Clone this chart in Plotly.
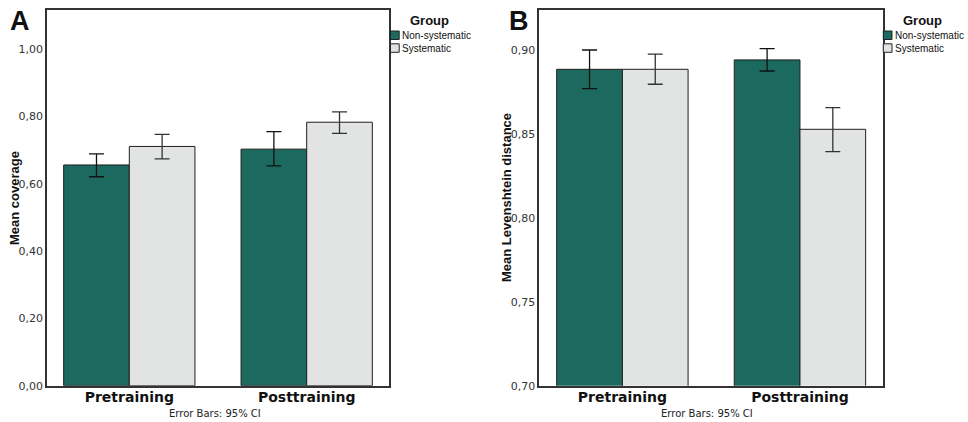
import plotly.graph_objects as go

# ---- data ----
phases = ["Pretraining", "Posttraining"]
groups = ["Non-systematic", "Systematic"]

cov_nonsys = [0.656, 0.703]
cov_nonsys_hi = [0.689, 0.755]
cov_nonsys_lo = [0.621, 0.653]
cov_sys = [0.711, 0.783]
cov_sys_hi = [0.747, 0.814]
cov_sys_lo = [0.674, 0.750]

lev_nonsys = [0.8883, 0.8939]
lev_nonsys_hi = [0.8998, 0.9006]
lev_nonsys_lo = [0.8768, 0.8873]
lev_sys = [0.8883, 0.8526]
lev_sys_hi = [0.8973, 0.8655]
lev_sys_lo = [0.8794, 0.8393]

cov_ticks = [0.0, 0.2, 0.4, 0.6, 0.8, 1.0]
lev_ticks = [0.70, 0.75, 0.80, 0.85, 0.90]

# ---- style ----
TEAL = "#1c6a5f"
LGRAY = "#e2e4e3"
EDGE = "#1e1e1e"
W, H = 968, 422
group_colors = [TEAL, LGRAY]


def px_x(p):
    return p / W


def px_y(p):
    return 1 - p / H


fig = go.Figure()


def add_bars(vals, hi, lo, color, name, xa, ya, err_color):
    fig.add_trace(go.Bar(
        x=phases, y=vals, name=name, xaxis=xa, yaxis=ya, showlegend=False,
        marker=dict(color=color, line=dict(color=EDGE, width=1)),
        error_y=dict(type="data", symmetric=False,
                     array=[h - v for h, v in zip(hi, vals)],
                     arrayminus=[v - l for v, l in zip(vals, lo)],
                     color=err_color, thickness=1.3, width=7.5),
    ))


add_bars(cov_nonsys, cov_nonsys_hi, cov_nonsys_lo, TEAL, groups[0], "x", "y", "#111")
add_bars(cov_sys, cov_sys_hi, cov_sys_lo, LGRAY, groups[1], "x", "y", "#333")
add_bars(lev_nonsys, lev_nonsys_hi, lev_nonsys_lo, TEAL, groups[0], "x2", "y2", "#111")
add_bars(lev_sys, lev_sys_hi, lev_sys_lo, LGRAY, groups[1], "x2", "y2", "#333")

ydom = [px_y(385.7), px_y(10)]
axis_common = dict(showline=True, mirror=True, linecolor="#333", linewidth=1.5,
                   showgrid=False, zeroline=False, ticks="", automargin=False)
xfont = dict(family="DejaVu Sans", size=14, color="#111")
yfont = dict(family="DejaVu Sans", size=11, color="#333")

fig.update_layout(
    width=W, height=H, margin=dict(l=0, r=0, t=0, b=0, autoexpand=False),
    paper_bgcolor="white", plot_bgcolor="white",
    separators=",.",
    barmode="group", bargap=0.26, bargroupgap=0,
    showlegend=False,
    xaxis=dict(domain=[px_x(47), px_x(389)], anchor="y", type="category",
               range=[-0.464, 1.464], tickfont=xfont, ticklabelstandoff=-2,
               tickprefix="<b>", ticksuffix="</b>", **axis_common),
    yaxis=dict(domain=ydom, anchor="x", range=[0, 1.1165],
               tickvals=cov_ticks, tickformat=".2f", tickfont=yfont,
               **axis_common),
    xaxis2=dict(domain=[px_x(539.3), px_x(882.7)], anchor="y2", type="category",
                range=[-0.468, 1.466], tickfont=xfont, ticklabelstandoff=-2,
                tickprefix="<b>", ticksuffix="</b>", **axis_common),
    yaxis2=dict(domain=ydom, anchor="x2", range=[0.70, 0.9236],
                tickvals=lev_ticks, tickformat=".2f", tickfont=yfont,
                **axis_common),
)

annos = [
    dict(text="<b>A</b>", x=px_x(20), y=px_y(21), font=dict(family="Liberation Sans", size=27, color="#111")),
    dict(text="<b>B</b>", x=px_x(519), y=px_y(21), font=dict(family="Liberation Sans", size=27, color="#111")),
    dict(text="<b>Mean coverage</b>", x=px_x(14), y=px_y(198), textangle=-90,
         font=dict(family="Liberation Sans", size=13, color="#111")),
    dict(text="<b>Mean Levenshtein distance</b>", x=px_x(506), y=px_y(198), textangle=-90,
         font=dict(family="Liberation Sans", size=13, color="#111")),
    dict(text="Error Bars: 95% CI", x=px_x(215), y=px_y(413),
         font=dict(family="DejaVu Sans", size=10, color="#222")),
    dict(text="Error Bars: 95% CI", x=px_x(707), y=px_y(413),
         font=dict(family="DejaVu Sans", size=10, color="#222")),
]
for a in annos:
    fig.add_annotation(xref="paper", yref="paper", showarrow=False,
                       xanchor="center", yanchor="middle", **a)

# manual legends (one per panel)
for lx in (390.5, 883.3):
    fig.add_annotation(xref="paper", yref="paper", showarrow=False,
                       x=px_x(lx + 39), y=px_y(20), xanchor="center", yanchor="middle",
                       text="<b>Group</b>",
                       font=dict(family="Liberation Sans", size=13, color="#111"))
    for i, (g, c) in enumerate(zip(groups, group_colors)):
        top = 31 + i * 12.8
        fig.add_shape(type="rect", xref="paper", yref="paper",
                      x0=px_x(lx), x1=px_x(lx + 8.7), y0=px_y(top + 8.5), y1=px_y(top),
                      fillcolor=c, line=dict(color="#222", width=1))
        fig.add_annotation(xref="paper", yref="paper", showarrow=False,
                           x=px_x(lx + 9.5), y=px_y(top + 4.5), xanchor="left", yanchor="middle",
                           text=g, font=dict(family="Liberation Sans", size=10, color="#111"))

fig.write_html("out.html")
